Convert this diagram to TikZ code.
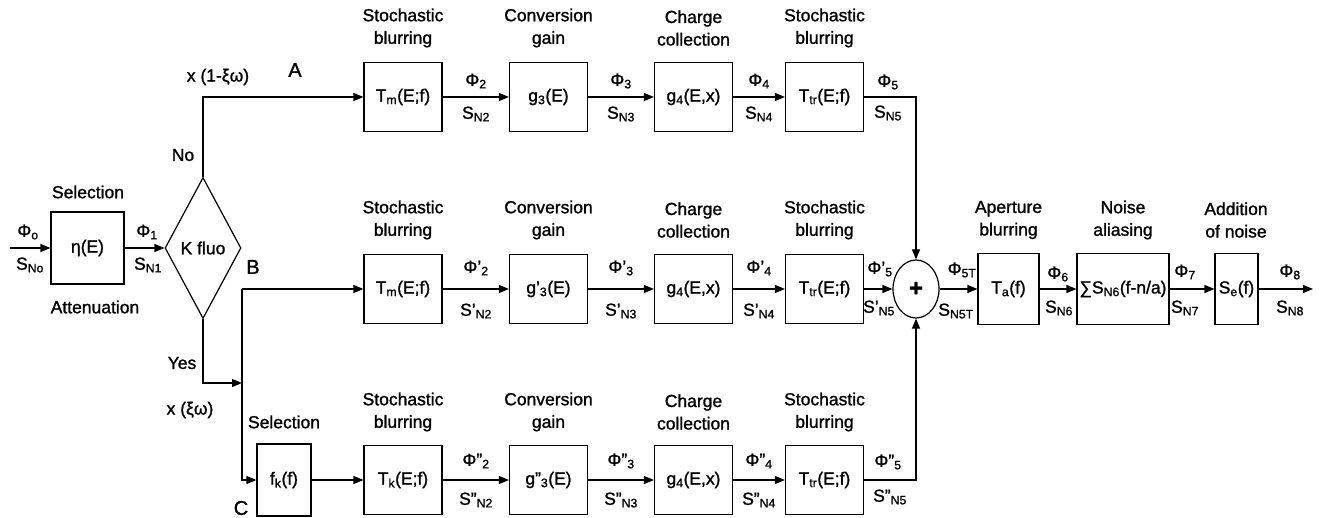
\documentclass[tikz,border=0pt]{standalone}
\usepackage{fontspec}
\setmainfont{Liberation Sans}[FakeBold=1.2]
\usetikzlibrary{arrows.meta,shapes.geometric,calc}
\begin{document}
\begin{tikzpicture}[x=1pt,y=-1pt,
  every node/.style={font=\fontsize{17.5}{22.5}\selectfont, inner sep=0pt},
  blk/.style={draw, line width=1.2pt, minimum width=78pt, minimum height=69pt},
  lbl/.style={align=center},
  big/.style={font=\fontsize{20}{22}\selectfont},
  wire/.style={line width=1.2pt},
  arr/.style={wire, -{Triangle[length=10pt,width=8pt]}},
]
\fill[white] (0,0) rectangle (1327,518);
\useasboundingbox (0,0) rectangle (1327,518);

% left part
\coordinate (in) at (10,248);
\node[blk, minimum width=73pt, minimum height=72pt] (eta) at (87.5,248) {η(E)};
\node[draw, diamond, line width=1.2pt, minimum width=76pt, minimum height=141pt] (kf) at (203,248) {K fluo};

% top row
\node[blk] (tm1) at (403,97) {T\textsubscript{m}(E;f)};
\node[blk] (ga1) at (548.5,97) {g\textsubscript{3}(E)};
\node[blk] (gb1) at (693.5,97) {g\textsubscript{4}(E,x)};
\node[blk] (tt1) at (824.5,97) {T\textsubscript{tr}(E;f)};

% middle row
\node[blk] (tm2) at (403,289) {T\textsubscript{m}(E;f)};
\node[blk] (ga2) at (548.5,289) {g'\textsubscript{3}(E)};
\node[blk] (gb2) at (693.5,289) {g\textsubscript{4}(E,x)};
\node[blk] (tt2) at (824.5,289) {T\textsubscript{tr}(E;f)};

% bottom row
\node[blk, minimum width=54pt, minimum height=72pt] (fk) at (284,480) {f\textsubscript{k}(f)};
\node[blk] (tk) at (403,480) {T\textsubscript{k}(E;f)};
\node[blk] (ga3) at (548.5,480) {g"\textsubscript{3}(E)};
\node[blk] (gb3) at (693.5,480) {g\textsubscript{4}(E,x)};
\node[blk] (tt3) at (824.5,480) {T\textsubscript{tr}(E;f)};

% right part
\node[draw, ellipse, line width=1.2pt, minimum width=46pt, minimum height=58pt] (sum) at (916,289) {\fontsize{24}{24}\selectfont\bfseries +};
\node[blk, minimum width=61pt, minimum height=71pt] (ta) at (1008.5,289) {T\textsubscript{a}(f)};
\node[blk, minimum width=92pt, minimum height=71pt] (al) at (1123,289) {∑S\textsubscript{N6}(f-n/a)};
\node[blk, minimum width=43pt, minimum height=71pt] (se) at (1236.5,289) {S\textsubscript{e}(f)};
\coordinate (out) at (1313,289);

% connectors
\draw[arr] (in) -- (eta);
\draw[arr] (eta) -- (kf);
\draw[arr] (kf.north) |- (tm1.west);
\draw[arr] (tm1) -- (ga1);
\draw[arr] (ga1) -- (gb1);
\draw[arr] (gb1) -- (tt1);
\draw[arr] (tt1.east) -| (sum.north);

\coordinate (ye) at (242,383);
\coordinate (B) at (242,289);
\draw[arr] (kf.south) |- (ye);
\draw[arr] (B) -- (tm2.west);
\draw[arr] (B) |- (fk.west);
\draw[arr] (tm2) -- (ga2);
\draw[arr] (ga2) -- (gb2);
\draw[arr] (gb2) -- (tt2);
\draw[arr] (tt2) -- (sum);

\draw[arr] (fk) -- (tk);
\draw[arr] (tk) -- (ga3);
\draw[arr] (ga3) -- (gb3);
\draw[arr] (gb3) -- (tt3);
\draw[arr] (tt3.east) -| (sum.south);

\draw[arr] (sum) -- (ta);
\draw[arr] (ta) -- (al);
\draw[arr] (al) -- (se);
\draw[arr] (se) -- (out);

% left labels
\node at (88,192) {Selection};
\node at (95,307) {Attenuation};
\node at (28,232) {Φ\textsubscript{o}};
\node at (30,265) {S\textsubscript{No}};
\node at (147,232) {Φ\textsubscript{1}};
\node at (148,265) {S\textsubscript{N1}};
\node at (183,155) {No};
\node at (218,77) {x (1-ξω)};
\node[big] at (295,70) {A};
\node[big] at (253,267) {B};
\node at (182,363) {Yes};
\node at (190,410) {x (ξω)};
\node at (284,422) {Selection};
\node[big] at (241,508) {C};

% block titles
\foreach \yy in {28,220,412}{
  \node[lbl] at (403,\yy) {Stochastic\\blurring};
  \node[lbl] at (548.5,\yy) {Conversion\\gain};
  \node[lbl] at (693.5,\yy) {Charge\\collection};
  \node[lbl] at (824.5,\yy) {Stochastic\\blurring};
}
\node[lbl] at (1008.5,220) {Aperture\\blurring};
\node[lbl] at (1123,220) {Noise\\aliasing};
\node[lbl] at (1236,220) {Addition\\of noise};

% top row signals
\node at (476,81) {Φ\textsubscript{2}};
\node at (476,114) {S\textsubscript{N2}};
\node at (621,81) {Φ\textsubscript{3}};
\node at (621,114) {S\textsubscript{N3}};
\node at (759,81) {Φ\textsubscript{4}};
\node at (759,114) {S\textsubscript{N4}};
\node at (888,82) {Φ\textsubscript{5}};
\node at (888,113) {S\textsubscript{N5}};

% middle row signals
\node at (476,268) {Φ'\textsubscript{2}};
\node at (476,311) {S'\textsubscript{N2}};
\node at (621,268) {Φ'\textsubscript{3}};
\node at (621,311) {S'\textsubscript{N3}};
\node at (759,268) {Φ'\textsubscript{4}};
\node at (759,311) {S'\textsubscript{N4}};
\node at (880,269) {Φ'\textsubscript{5}};
\node at (879,308) {S'\textsubscript{N5}};

% bottom row signals
\node at (476,461) {Φ"\textsubscript{2}};
\node at (476,500) {S"\textsubscript{N2}};
\node at (621,461) {Φ"\textsubscript{3}};
\node at (621,500) {S"\textsubscript{N3}};
\node at (759,461) {Φ"\textsubscript{4}};
\node at (759,500) {S"\textsubscript{N4}};
\node at (888,462) {Φ"\textsubscript{5}};
\node at (890,497) {S"\textsubscript{N5}};

% right signals
\node at (962,270) {Φ\textsubscript{5T}};
\node at (956,311) {S\textsubscript{N5T}};
\node at (1058,274) {Φ\textsubscript{6}};
\node at (1059,308) {S\textsubscript{N6}};
\node at (1185,272) {Φ\textsubscript{7}};
\node at (1185,308) {S\textsubscript{N7}};
\node at (1290,272) {Φ\textsubscript{8}};
\node at (1290,308) {S\textsubscript{N8}};
\end{tikzpicture}
\end{document}
